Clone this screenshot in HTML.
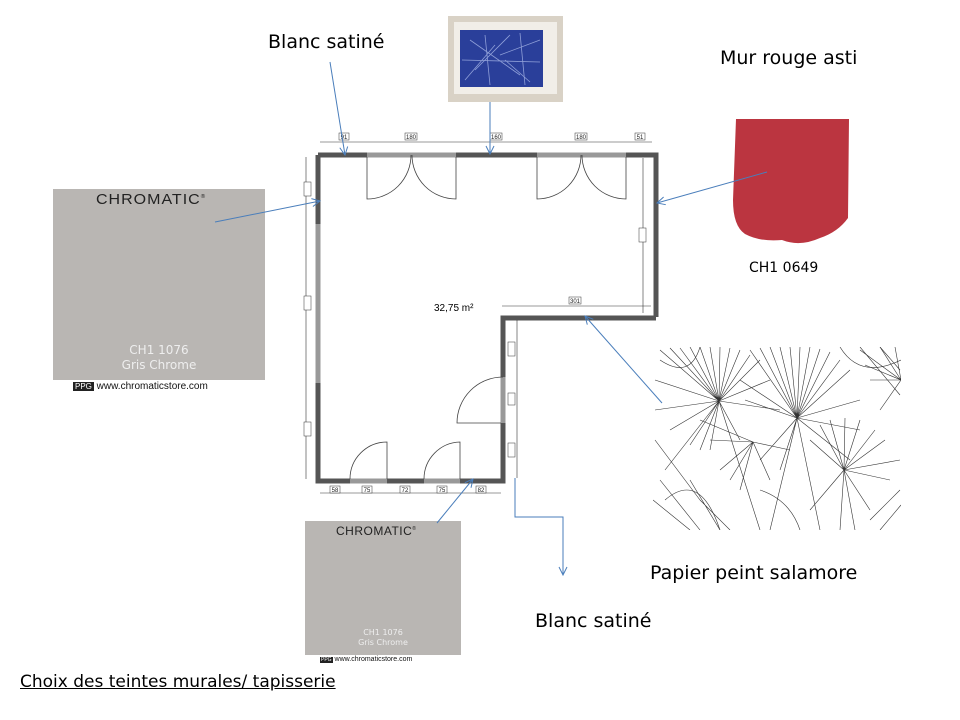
<!DOCTYPE html>
<html><head><meta charset="utf-8"><style>
body{margin:0;background:#fff;width:960px;height:720px;overflow:hidden;position:relative;font-family:"Liberation Sans",sans-serif}
.t{position:absolute;font-family:"DejaVu Sans","Liberation Sans",sans-serif;font-size:19px;color:#000;white-space:nowrap}
.sw{position:absolute;background:#b9b6b3}
</style></head><body>
<div class="t" style="left:268px;top:31px">Blanc satiné</div>
<div class="t" style="left:720px;top:47px">Mur rouge asti</div>
<div class="t" style="left:749px;top:260px;font-size:14px">CH1 0649</div>
<div class="t" style="left:650px;top:562px">Papier peint salamore</div>
<div class="t" style="left:535px;top:610px">Blanc satiné</div>
<div class="t" style="left:20px;top:672px;font-size:17px;text-decoration:underline">Choix des teintes murales/ tapisserie</div>

<div class="sw" style="left:53px;top:189px;width:212px;height:191px">
 <div style="position:absolute;left:43px;top:2px;font:16px 'Liberation Sans';color:#222;letter-spacing:1px;transform:scaleY(0.95)">CHROMATIC<sup style="font-size:6px">®</sup></div>
 <div style="position:absolute;left:0;width:212px;top:154px;text-align:center;font:12px 'DejaVu Sans';color:#eee;line-height:15px">CH1 1076<br>Gris Chrome</div>
</div>
<div style="position:absolute;left:73px;top:381px;font:10px 'Liberation Sans';color:#111"><span style="background:#222;color:#fff;font-size:8px;padding:0 2px">PPG</span> www.chromaticstore.com</div>

<div class="sw" style="left:305px;top:521px;width:156px;height:134px">
 <div style="position:absolute;left:31px;top:3px;font:12px 'Liberation Sans';color:#222;letter-spacing:0.5px">CHROMATIC<sup style="font-size:5px">®</sup></div>
 <div style="position:absolute;left:0;width:156px;top:107px;text-align:center;font:8px 'DejaVu Sans';color:#eee;line-height:10px">CH1 1076<br>Gris Chrome</div>
</div>
<div style="position:absolute;left:320px;top:656px;font:7px 'Liberation Sans';color:#111"><span style="background:#222;color:#fff;font-size:5px;padding:0 1px">PPG</span> www.chromaticstore.com</div>

<svg width="960" height="720" style="position:absolute;left:0;top:0">
<defs><marker id="a" markerWidth="10" markerHeight="10" refX="9" refY="5" orient="auto" markerUnits="userSpaceOnUse"><path d="M1,1 L9,5 L1,9" fill="none" stroke="#4a7ebb" stroke-width="1"/></marker>
<clipPath id="c"><rect x="653" y="347" width="248" height="183"/></clipPath></defs>
<!-- painting -->
<rect x="448" y="16" width="115" height="86" fill="#d9d2c6"/>
<rect x="454" y="22" width="103" height="72" fill="#f1eee8"/>
<rect x="460" y="30" width="83" height="57" fill="#2a3f9a"/>
<g stroke="#a9b8e8" stroke-width="0.8" opacity="0.8">
<path d="M465,80 L495,45 M470,40 L520,75 M485,35 L490,85 M500,55 L540,40 M505,60 L530,82 M462,60 L540,62 M475,70 L510,35 M520,33 L525,85"/>
</g>
<!-- red paint -->
<path d="M736,119 L849,119 L848,218 Q838,232 820,238 Q800,247 782,240 Q760,242 745,234 Q733,226 733,200 Z" fill="#bb3540"/>
<!-- palm -->
<g clip-path="url(#c)" stroke="#333" stroke-width="0.6" fill="none">
<path d="M719,401 L660,350 M719,401 L670,348 M719,401 L680,348 M719,401 L690,347 M719,401 L700,347 M719,401 L710,347 M719,401 L720,347 M719,401 L730,348 M719,401 L740,350 M719,401 L750,355 M719,401 L760,360 M719,401 L770,380 M719,401 L780,410 M719,401 L670,430 M719,401 L665,470 M719,401 L690,445 M719,401 L700,450 M719,401 L710,450 M719,401 L760,530 M719,401 L740,440 M719,401 L655,380 M719,401 L655,410"/>
<path d="M797,418 L750,350 M797,418 L760,348 M797,418 L770,347 M797,418 L780,347 M797,418 L790,347 M797,418 L800,347 M797,418 L810,347 M797,418 L820,349 M797,418 L830,352 M797,418 L840,360 M797,418 L850,370 M797,418 L860,400 M797,418 L860,430 M797,418 L850,460 M797,418 L780,470 M797,418 L760,460 M797,418 L820,530 M797,418 L770,530 M797,418 L745,400 M797,418 L740,380"/>
<path d="M753,442 L700,420 M753,442 L710,440 M753,442 L720,470 M753,442 L730,480 M753,442 L740,490 M753,442 L770,480 M753,442 L790,450"/>
<path d="M844,470 L810,440 M844,470 L820,425 M844,470 L830,420 M844,470 L845,418 M844,470 L860,420 M844,470 L875,430 M844,470 L885,440 M844,470 L890,480 M844,470 L870,510 M844,470 L840,530 M844,470 L810,510 M844,470 L900,460 M844,470 L855,530"/>
<path d="M901,380 L860,350 M901,380 L865,365 M901,380 L870,380 M901,380 L880,410 M901,380 L895,347 M901,380 L880,347"/>
<path d="M660,480 L700,530 M653,500 L690,530 M700,500 L730,530 M880,347 L900,370 M860,347 L900,395 M655,440 L700,500 M690,480 L720,530 M870,520 L900,490 M880,530 L901,505"/>
<path d="M665,500 Q700,470 720,530 M660,360 Q690,380 700,347 M840,347 Q860,380 901,360 M760,490 Q790,500 800,530"/>
</g>
<!-- floor plan walls -->
<g stroke="#555" stroke-width="5" fill="none">
<path d="M318,155 L656,155 L656,317"/>
<path d="M656,318 L503,318 L503,481 L318,481 L318,155"/>
</g>
<g stroke="#999" stroke-width="5">
<line x1="367" y1="155" x2="456" y2="155"/><line x1="537" y1="155" x2="626" y2="155"/>
<line x1="318" y1="224" x2="318" y2="383"/><line x1="503" y1="377" x2="503" y2="423"/>
<line x1="350" y1="481" x2="387" y2="481"/><line x1="424" y1="481" x2="460" y2="481"/>
</g>
<g stroke="#444" stroke-width="0.8" fill="none">
<path d="M367,157 L367,199 A44,44 0 0 0 411,155 M456,157 L456,199 A44,44 0 0 1 412,155"/>
<path d="M537,157 L537,199 A44,44 0 0 0 581,155 M626,157 L626,199 A44,44 0 0 1 582,155"/>
<path d="M501,423 L457,423 A46,46 0 0 1 503,377"/>
<path d="M350,479 A37,37 0 0 1 387,442 L387,479"/>
<path d="M424,479 A37,37 0 0 1 460,442 L460,479"/>
</g>
<g stroke="#333" stroke-width="0.6" fill="none">
<line x1="320" y1="142" x2="652" y2="142"/>
<line x1="306" y1="157" x2="306" y2="479"/>
<line x1="643" y1="158" x2="643" y2="313"/>
<line x1="502" y1="306" x2="651" y2="306"/>
<line x1="517" y1="320" x2="517" y2="478"/>
<line x1="320" y1="493" x2="501" y2="493"/>
</g>
<g font-family="Liberation Sans" font-size="6" fill="#222" text-anchor="middle">
<rect x="339" y="133" width="10" height="7" fill="#fff" stroke="#333" stroke-width="0.5"/><text x="344" y="139">91</text>
<rect x="405" y="133" width="12" height="7" fill="#fff" stroke="#333" stroke-width="0.5"/><text x="411" y="139">180</text>
<rect x="490" y="133" width="12" height="7" fill="#fff" stroke="#333" stroke-width="0.5"/><text x="496" y="139">160</text>
<rect x="575" y="133" width="12" height="7" fill="#fff" stroke="#333" stroke-width="0.5"/><text x="581" y="139">180</text>
<rect x="635" y="133" width="10" height="7" fill="#fff" stroke="#333" stroke-width="0.5"/><text x="640" y="139">51</text>
<rect x="569" y="297" width="12" height="7" fill="#fff" stroke="#333" stroke-width="0.5"/><text x="575" y="303">301</text>
<rect x="330" y="486" width="10" height="7" fill="#fff" stroke="#333" stroke-width="0.5"/><text x="335" y="492">58</text>
<rect x="362" y="486" width="10" height="7" fill="#fff" stroke="#333" stroke-width="0.5"/><text x="367" y="492">75</text>
<rect x="400" y="486" width="10" height="7" fill="#fff" stroke="#333" stroke-width="0.5"/><text x="405" y="492">72</text>
<rect x="437" y="486" width="10" height="7" fill="#fff" stroke="#333" stroke-width="0.5"/><text x="442" y="492">75</text>
<rect x="476" y="486" width="10" height="7" fill="#fff" stroke="#333" stroke-width="0.5"/><text x="481" y="492">82</text>
</g>
<g fill="#fff" stroke="#333" stroke-width="0.5">
<rect x="304" y="182" width="7" height="14"/><rect x="304" y="296" width="7" height="14"/><rect x="304" y="422" width="7" height="14"/>
<rect x="639" y="228" width="7" height="14"/><rect x="508" y="342" width="7" height="14"/><rect x="508" y="393" width="7" height="12"/><rect x="508" y="443" width="7" height="14"/>
</g>
<text x="434" y="311" font-family="Liberation Sans" font-size="10" fill="#000">32,75 m²</text>
<g stroke="#4a7ebb" stroke-width="1" fill="none" marker-end="url(#a)">
<line x1="330" y1="62" x2="345" y2="155"/>
<line x1="490" y1="102" x2="490" y2="154"/>
<line x1="767" y1="172" x2="657" y2="203"/>
<line x1="215" y1="222" x2="320" y2="201"/>
<line x1="662" y1="403" x2="585" y2="316"/>
<line x1="437" y1="523" x2="473" y2="479"/>
<polyline points="515,478 515,517 563,517 563,575"/>
</g>
</svg>
</body></html>
